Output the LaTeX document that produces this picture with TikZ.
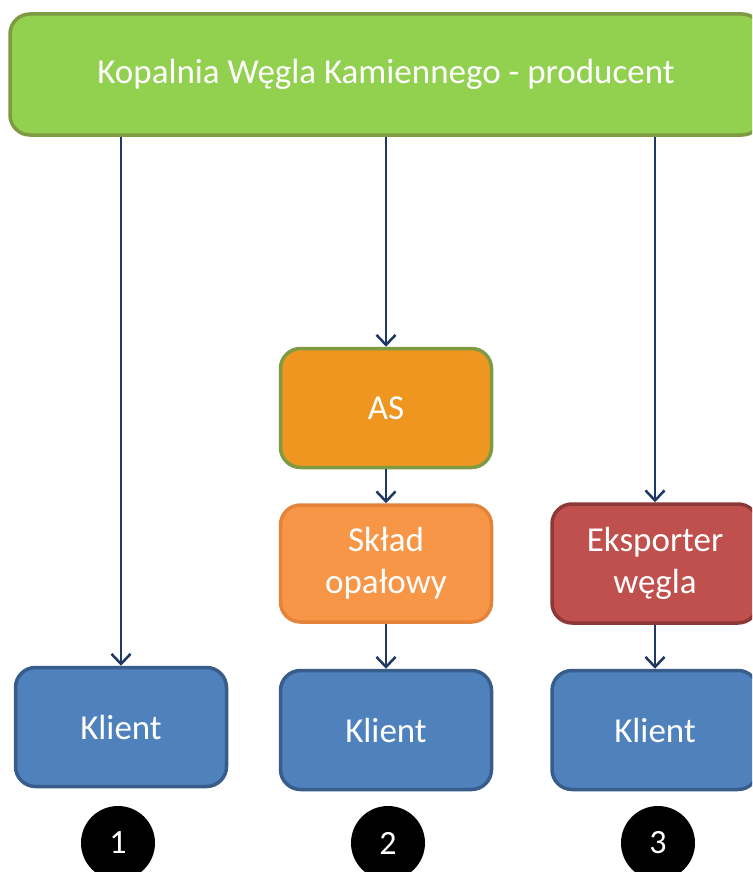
\documentclass[tikz,border=0pt]{standalone}
\usepackage{fontspec}
\setmainfont{Carlito}
\usetikzlibrary{arrows.meta}
\definecolor{greenfill}{HTML}{92D050}
\definecolor{greenline}{HTML}{7E9A42}
\definecolor{asfill}{HTML}{EE961F}
\definecolor{skladfill}{HTML}{F79646}
\definecolor{skladline}{HTML}{E3843A}
\definecolor{eksfill}{HTML}{C0504D}
\definecolor{eksline}{HTML}{8C3836}
\definecolor{klientfill}{HTML}{4F81BD}
\definecolor{klientline}{HTML}{385D8A}
\definecolor{arrowcol}{HTML}{1F3864}
\tikzset{
  box/.style={rectangle, rounded corners=20pt, line width=3.5pt, text=white,
    align=center, inner sep=0pt,
    font=\fontsize{35}{42}\selectfont},
  topbox/.style={box, fill=greenfill, draw=greenline, minimum width=752pt, minimum height=121pt},
  asbox/.style={box, fill=asfill, draw=greenline, minimum width=211pt, minimum height=119pt},
  skladbox/.style={box, fill=skladfill, draw=skladline, minimum width=211pt, minimum height=117pt},
  eksbox/.style={box, fill=eksfill, draw=eksline, minimum width=206pt, minimum height=119pt},
  klientbox/.style={box, fill=klientfill, draw=klientline, minimum width=211pt, minimum height=119pt},
  numdot/.style={circle, fill=black, minimum size=74pt, inner sep=0pt, text=white,
    font=\fontsize{34}{40}\selectfont},
  flow/.style={draw=arrowcol, line width=2.5pt,
    -{Straight Barb[length=10pt,width=19pt,line width=2.5pt]}}
}
\begin{document}
\begin{tikzpicture}[x=1pt,y=-1pt]
  \useasboundingbox (0,0) rectangle (752,872);
  \fill[white] (0,0) rectangle (752,872);
  \clip (0,0) rectangle (752,872);

  % producer at the top
  \node[topbox] (top) at (386,74.5) {Kopalnia Węgla Kamiennego - producent};

  % channel 2: AS and fuel depot
  \node[asbox] (as) at (386,408) {AS};
  \node[skladbox] (sklad) at (386,563.5) {Skład\\opałowy};

  % channel 3: exporter
  \node[eksbox] (eks) at (655,563.5) {Eksporter\\węgla};

  % clients
  \node[klientbox] (k1) at (121,727) {Klient};
  \node[klientbox] (k2) at (386,730) {Klient};
  \node[klientbox, minimum width=206pt] (k3) at (655,730) {Klient};

  % channel numbers
  \node[numdot] (n1) at (118,843) {1};
  \node[numdot] (n2) at (388,843) {2};
  \node[numdot] (n3) at (658,843) {3};

  % connectors
  \draw[flow] (top.south -| k1.north) -- (k1.north);
  \draw[flow] (top.south -| as.north) -- (as.north);
  \draw[flow] (top.south -| eks.north) -- (eks.north);
  \draw[flow] (as.south) -- (sklad.north);
  \draw[flow] (sklad.south) -- (k2.north);
  \draw[flow] (eks.south) -- (k3.north);
\end{tikzpicture}
\end{document}
